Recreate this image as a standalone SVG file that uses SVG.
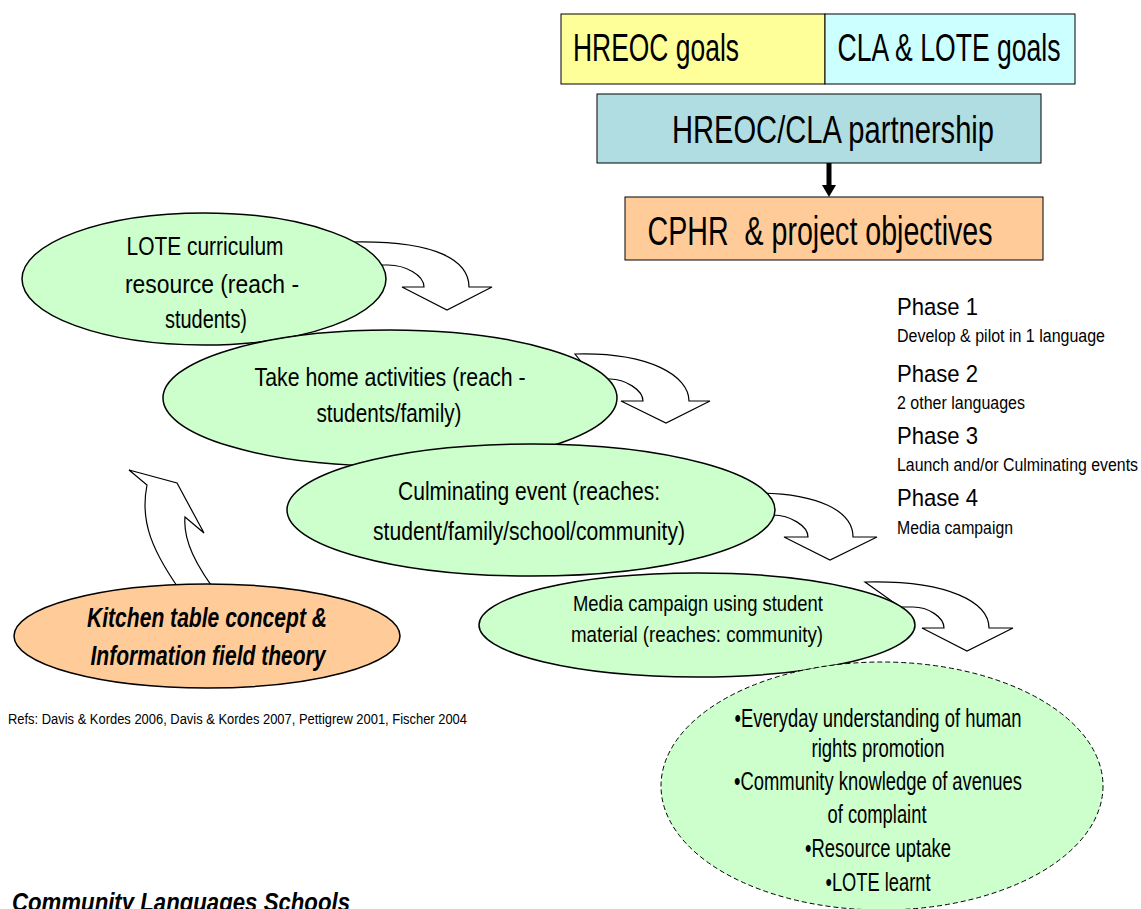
<svg xmlns="http://www.w3.org/2000/svg" width="1141" height="909" viewBox="0 0 1141 909">
<style>
text{font-family:"Liberation Sans",Arial,sans-serif;fill:#000;text-anchor:middle}
.box{stroke:#000;stroke-width:1}
.ell{fill:#CCFFCC;stroke:#000;stroke-width:1.5}
.arr{fill:#fff;stroke:#000;stroke-width:1.2}
.l{text-anchor:start}
.bi{font-weight:bold;font-style:italic}
</style>
<rect width="1141" height="909" fill="#fff"/>
<g id="connectors">
<path class="arr" d="M350,242 C440,240 469,262 469,287 L492,287 L447,310 L402,287 L424,287 C424,275 405,265 388,265 L370,265 Z"/>
<path class="arr" d="M575,354 C650,352 689,376 689,401 L710,401 L666,423 L621,401 L643,401 C643,390 625,379 610,379 L595,379 Z"/>
<path class="arr" d="M750,493 C820,492 853,512 853,537 L877,537 L830,560 L784,537 L808,537 C808,526 790,515 773,515 L760,515 Z"/>
<path class="arr" d="M865,582 C950,580 989,603 989,628 L1013,628 L967,651 L922,628 L944,628 C944,617 928,607 913,607 L900,607 Z"/>
<path class="arr" d="M187,600 C150,550 140,520 147,485 L129,470 L177,483 L204,533 L185,517 C183,540 195,565 222,600 Z"/>
<line x1="829" y1="163" x2="829" y2="186" stroke="#000" stroke-width="5"/>
<polygon points="822,185 836,185 829,197" fill="#000"/>
</g>
<g id="hreoc-goals"><rect class="box" x="561" y="14" width="264" height="70" fill="#FFFF99"/><text x="656" y="61" font-size="38" textLength="166" lengthAdjust="spacingAndGlyphs">HREOC goals</text></g>
<g id="cla-lote-goals"><rect class="box" x="825" y="14" width="250" height="70" fill="#CCFFFF"/><text x="949" y="61" font-size="38" textLength="223" lengthAdjust="spacingAndGlyphs">CLA &amp; LOTE goals</text></g>
<g id="partnership"><rect class="box" x="597" y="94" width="444" height="69" fill="#B0DDE1"/><text x="833" y="143" font-size="38" textLength="322" lengthAdjust="spacingAndGlyphs">HREOC/CLA partnership</text></g>
<g id="cphr"><rect class="box" x="625" y="197" width="418" height="63" fill="#FFCC99"/><text x="820" y="245" font-size="40" xml:space="preserve" textLength="345" lengthAdjust="spacingAndGlyphs">CPHR  &amp; project objectives</text></g>
<g id="lote-curriculum"><ellipse class="ell" cx="204" cy="279" rx="182" ry="66"/>
<text x="205" y="255" font-size="25.5" textLength="157" lengthAdjust="spacingAndGlyphs">LOTE curriculum</text><text x="212" y="293" font-size="25.5" textLength="174" lengthAdjust="spacingAndGlyphs">resource (reach -</text><text x="206" y="328" font-size="25.5" textLength="82" lengthAdjust="spacingAndGlyphs">students)</text></g>
<g id="take-home"><ellipse class="ell" cx="390" cy="398" rx="227" ry="68"/>
<text x="390" y="386" font-size="25.5" textLength="271" lengthAdjust="spacingAndGlyphs">Take home activities (reach -</text><text x="389" y="422" font-size="25.5" textLength="145" lengthAdjust="spacingAndGlyphs">students/family)</text></g>
<g id="culminating"><ellipse class="ell" cx="531" cy="510" rx="244" ry="66"/>
<text x="529" y="500" font-size="25.5" textLength="262" lengthAdjust="spacingAndGlyphs">Culminating event (reaches:</text><text x="529" y="540" font-size="25.5" textLength="312" lengthAdjust="spacingAndGlyphs">student/family/school/community)</text></g>
<g id="media"><ellipse class="ell" cx="697" cy="625" rx="218" ry="52"/>
<text x="698" y="611" font-size="21.5" textLength="250" lengthAdjust="spacingAndGlyphs">Media campaign using student</text><text x="697" y="642" font-size="21.5" textLength="252" lengthAdjust="spacingAndGlyphs">material (reaches: community)</text></g>
<g id="kitchen"><ellipse class="ell" cx="207" cy="636" rx="193" ry="52" style="fill:#FFCC99"/>
<text class="bi" x="207" y="627" font-size="28" textLength="240" lengthAdjust="spacingAndGlyphs">Kitchen table concept &amp;</text><text class="bi" x="208" y="665" font-size="28" textLength="235" lengthAdjust="spacingAndGlyphs">Information field theory</text></g>
<g id="outcomes"><ellipse cx="882" cy="786" rx="221" ry="124" fill="#CCFFCC" stroke="#000" stroke-width="1" stroke-dasharray="5,3"/>
<text x="878" y="727" font-size="25" textLength="287" lengthAdjust="spacingAndGlyphs">•Everyday understanding of human</text>
<text x="878" y="757" font-size="25" textLength="133" lengthAdjust="spacingAndGlyphs">rights promotion</text>
<text x="878" y="790" font-size="25" textLength="288" lengthAdjust="spacingAndGlyphs">•Community knowledge of avenues</text>
<text x="877" y="823" font-size="25" textLength="99" lengthAdjust="spacingAndGlyphs">of complaint</text>
<text x="878" y="857" font-size="25" textLength="146" lengthAdjust="spacingAndGlyphs">•Resource uptake</text>
<text x="878" y="891" font-size="25" textLength="105" lengthAdjust="spacingAndGlyphs">•LOTE learnt</text></g>
<g id="phases">
<text class="l" x="897" y="315" font-size="24.5" textLength="81" lengthAdjust="spacingAndGlyphs">Phase 1</text>
<text class="l" x="897" y="342" font-size="17.5" textLength="208" lengthAdjust="spacingAndGlyphs">Develop &amp; pilot in 1 language</text>
<text class="l" x="897" y="382" font-size="24.5" textLength="81" lengthAdjust="spacingAndGlyphs">Phase 2</text>
<text class="l" x="897" y="409" font-size="17.5" textLength="128" lengthAdjust="spacingAndGlyphs">2 other languages</text>
<text class="l" x="897" y="444" font-size="24.5" textLength="81" lengthAdjust="spacingAndGlyphs">Phase 3</text>
<text class="l" x="897" y="471" font-size="17.5" textLength="241" lengthAdjust="spacingAndGlyphs">Launch and/or Culminating events</text>
<text class="l" x="897" y="506" font-size="24.5" textLength="81" lengthAdjust="spacingAndGlyphs">Phase 4</text>
<text class="l" x="897" y="534" font-size="17.5" textLength="116" lengthAdjust="spacingAndGlyphs">Media campaign</text>
</g>
<g id="refs"><text class="l" x="8" y="724" font-size="15.5" textLength="459" lengthAdjust="spacingAndGlyphs">Refs: Davis &amp; Kordes 2006, Davis &amp; Kordes 2007, Pettigrew 2001, Fischer 2004</text></g>
<g id="title"><text class="l bi" x="12" y="911" font-size="25" textLength="338" lengthAdjust="spacingAndGlyphs">Community Languages Schools</text></g>
</svg>
